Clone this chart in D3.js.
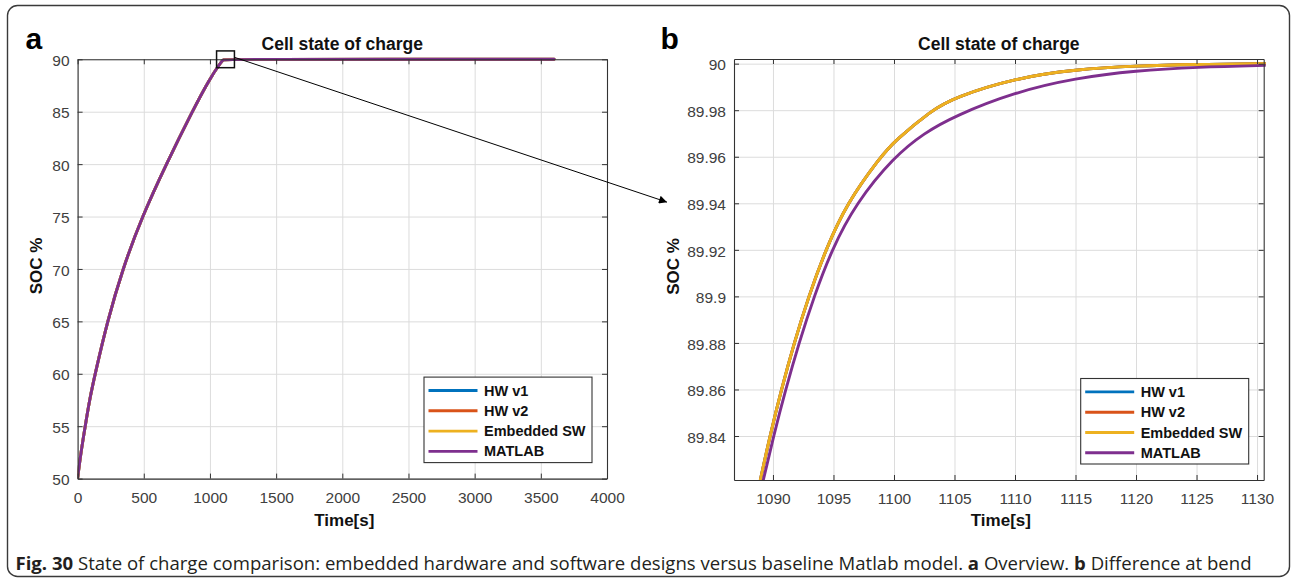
<!DOCTYPE html>
<html>
<head>
<meta charset="utf-8">
<script src="https://cdn.jsdelivr.net/npm/d3@7"></script>
<style>
html,body{margin:0;padding:0;background:#fff;}
svg{display:block;}
</style>
</head>
<body>
<svg id="chart" width="1293" height="579"></svg>
<script>
// ---------------- DATA ----------------
const seriesNames  = ["HW v1", "HW v2", "Embedded SW", "MATLAB"];
const seriesColors = ["#0072BD", "#D95319", "#EDB120", "#7E2F8E"];

// Panel a: overview (all four series coincide at this scale)
const overviewTime = [0, 25, 57.5, 90, 132.5, 225, 340, 487.5, 670, 865, 1000, 1089, 1100, 1130, 3600];
const overviewSoc  = [50, 52.5, 55, 57.5, 60, 65, 70, 75, 80, 85, 88.2, 89.82, 89.966, 90, 90];

// Panel b: zoom at the bend
// HW v1, HW v2 and Embedded SW lie on top of each other
const zoomTimeSW = [1088.5, 1088.95, 1089.75, 1090.7, 1091.75, 1092.95, 1094.35, 1096.1, 1098.9, 1100, 1103.1, 1105, 1110, 1115, 1120, 1125, 1131];
const zoomSocSW  = [89.81, 89.821, 89.84, 89.86, 89.88, 89.90, 89.92, 89.94, 89.96, 89.9665, 89.98, 89.9855, 89.9938, 89.9975, 89.9991, 89.9997, 90.0];
const zoomTimeML = [1088.7, 1089.2, 1090.05, 1091.05, 1092.15, 1093.4, 1094.85, 1096.85, 1100.0, 1102.5, 1105, 1110, 1115, 1120, 1125, 1131];
const zoomSocML  = [89.81, 89.821, 89.84, 89.86, 89.88, 89.90, 89.92, 89.94, 89.96, 89.9702, 89.9775, 89.9878, 89.9938, 89.997, 89.9985, 89.9993];

// Ticks
const overviewXTicks = [0, 500, 1000, 1500, 2000, 2500, 3000, 3500, 4000];
const overviewXLabels = ["0", "500", "1000", "1500", "2000", "2500", "3000", "3500", "4000"];
const overviewYTicks = [50, 55, 60, 65, 70, 75, 80, 85, 90];
const overviewYLabels = ["50", "55", "60", "65", "70", "75", "80", "85", "90"];
const zoomXTicks = [1090, 1095, 1100, 1105, 1110, 1115, 1120, 1125, 1130];
const zoomXLabels = ["1090", "1095", "1100", "1105", "1110", "1115", "1120", "1125", "1130"];
const zoomYTicks = [89.84, 89.86, 89.88, 89.9, 89.92, 89.94, 89.96, 89.98, 90];
const zoomYLabels = ["89.84", "89.86", "89.88", "89.9", "89.92", "89.94", "89.96", "89.98", "90"];

const titleText = "Cell state of charge";
const xTitle = "Time[s]";
const yTitle = "SOC %";

// Zoom-region marker on panel a (data units)
const zoomBoxTime = [1050, 1185];
const zoomBoxSoc  = [89.2, 90.8];

// ---------------- DRAWING ----------------
const svg = d3.select("#chart");
const FONT = "'Liberation Sans', Arial, Helvetica, sans-serif";

// outer rounded frame
svg.append("rect")
  .attr("x", 7.5).attr("y", 5.5).attr("width", 1282).attr("height", 571)
  .attr("rx", 10).attr("ry", 10)
  .attr("fill", "#fff").attr("stroke", "#3a3a3a").attr("stroke-width", 1.4);

const defs = svg.append("defs");
defs.append("marker")
  .attr("id", "arrowhead").attr("viewBox", "0 0 10 10")
  .attr("refX", 10).attr("refY", 5)
  .attr("markerWidth", 11).attr("markerHeight", 8)
  .attr("markerUnits", "userSpaceOnUse")
  .attr("orient", "auto")
  .append("path").attr("d", "M0,0 L10,5 L0,10 z").attr("fill", "#000");

function drawPanel(p) {
  const g = svg.append("g");
  const x = d3.scaleLinear().domain(p.xDomain).range([p.left, p.right]);
  const y = d3.scaleLinear().domain(p.yDomain).range([p.bottom, p.top]);
  const h = p.bottom - p.top, w = p.right - p.left;

  g.append("rect").attr("x", p.left).attr("y", p.top).attr("width", w).attr("height", h).attr("fill", "#fff");

  // grid
  const gx = g.append("g").attr("transform", `translate(0,${p.bottom})`)
    .call(d3.axisBottom(x).tickValues(p.xTicks).tickSize(-h).tickFormat(""));
  gx.select(".domain").remove();
  gx.selectAll("line").attr("stroke", "#dcdcdc").attr("stroke-width", 1);
  const gy = g.append("g").attr("transform", `translate(${p.left},0)`)
    .call(d3.axisLeft(y).tickValues(p.yTicks).tickSize(-w).tickFormat(""));
  gy.select(".domain").remove();
  gy.selectAll("line").attr("stroke", "#dcdcdc").attr("stroke-width", 1);

  // clip
  const clipId = "clip-" + p.id;
  defs.append("clipPath").attr("id", clipId).append("rect")
    .attr("x", p.left).attr("y", p.top - 2).attr("width", w + 2).attr("height", h + 2);

  const line = d3.line().x(d => x(d[0])).y(d => y(d[1])).curve(d3.curveBasis);
  const lg = g.append("g").attr("clip-path", `url(#${clipId})`);
  p.series.forEach((s, i) => {
    lg.append("path")
      .datum(d3.zip(s.t, s.v))
      .attr("d", line)
      .attr("fill", "none")
      .attr("stroke", seriesColors[i])
      .attr("stroke-width", 2.9)
      .attr("stroke-linejoin", "round")
      .attr("stroke-linecap", "round");
  });

  // axes (box with inward ticks on all sides)
  const axStyle = sel => {
    sel.select(".domain").attr("stroke", "#333").attr("stroke-width", 1.1);
    sel.selectAll(".tick line").attr("stroke", "#333").attr("stroke-width", 1);
    sel.selectAll("text").attr("fill", "#404040").style("font-family", FONT).style("font-size", "15.5px");
  };
  g.append("g").attr("transform", `translate(0,${p.bottom})`)
    .call(d3.axisBottom(x).tickValues(p.xTicks).tickSize(-5).tickSizeOuter(0).tickPadding(13)
      .tickFormat((d, i) => p.xLabels[i]))
    .call(axStyle);
  g.append("g").attr("transform", `translate(0,${p.top})`)
    .call(d3.axisTop(x).tickValues(p.xTicks).tickSize(-5).tickSizeOuter(0).tickFormat(""))
    .call(axStyle);
  const la = g.append("g").attr("transform", `translate(${p.left},0)`)
    .call(d3.axisLeft(y).tickValues(p.yTicks).tickSize(-5).tickSizeOuter(0).tickPadding(8)
      .tickFormat((d, i) => p.yLabels[i]))
    .call(axStyle);
  la.selectAll("text").attr("dy", "0.4em");
  g.append("g").attr("transform", `translate(${p.right},0)`)
    .call(d3.axisRight(y).tickValues(p.yTicks).tickSize(-5).tickSizeOuter(0).tickFormat(""))
    .call(axStyle);

  // title
  g.append("text").attr("x", (p.left + p.right) / 2).attr("y", 50)
    .attr("text-anchor", "middle").style("font-family", FONT).style("font-weight", "bold")
    .style("font-size", "17.5px").attr("fill", "#111").text(titleText);
  // x title
  g.append("text").attr("x", (p.left + p.right) / 2 + 2).attr("y", 525.5)
    .attr("text-anchor", "middle").style("font-family", FONT).style("font-weight", "bold")
    .style("font-size", "17px").attr("fill", "#111").text(xTitle);
  // y title
  g.append("text").attr("transform", `translate(${p.yTitleX},${(p.top + p.bottom) / 2 - 3}) rotate(-90)`)
    .attr("text-anchor", "middle").style("font-family", FONT).style("font-weight", "bold")
    .style("font-size", "17px").attr("fill", "#111").text(yTitle);
  // panel letter
  g.append("text").attr("x", p.letterX).attr("y", 48.5)
    .style("font-family", FONT).style("font-weight", "bold")
    .style("font-size", "30px").attr("fill", "#000").text(p.letter);

  // legend
  const legW = 168, legH = 85.5;
  const lx = p.right - 15 - legW, ly = p.bottom - 16 - legH;
  const leg = g.append("g");
  leg.append("rect").attr("x", lx).attr("y", ly).attr("width", legW).attr("height", legH)
    .attr("fill", "#fff").attr("stroke", "#333").attr("stroke-width", 1.1);
  seriesNames.forEach((name, i) => {
    const ry = ly + 13.4 + i * 20.3;
    leg.append("line").attr("x1", lx + 4.5).attr("x2", lx + 53.5).attr("y1", ry).attr("y2", ry)
      .attr("stroke", seriesColors[i]).attr("stroke-width", 2.9);
    leg.append("text").attr("x", lx + 60).attr("y", ry + 5)
      .style("font-family", FONT).style("font-weight", "bold").style("font-size", "14.5px")
      .attr("fill", "#111").text(name);
  });
  return {x, y};
}

const A = drawPanel({
  id: "a", letter: "a", letterX: 25.5, yTitleX: 42,
  left: 77.6, right: 607, top: 59.3, bottom: 478.6,
  xDomain: [0, 4000], yDomain: [50, 90],
  xTicks: overviewXTicks, xLabels: overviewXLabels,
  yTicks: overviewYTicks, yLabels: overviewYLabels,
  series: [
    {t: overviewTime, v: overviewSoc},
    {t: overviewTime, v: overviewSoc},
    {t: overviewTime, v: overviewSoc},
    {t: overviewTime, v: overviewSoc}
  ]
});

const B = drawPanel({
  id: "b", letter: "b", letterX: 660.5, yTitleX: 679,
  left: 734, right: 1263.7, top: 59, bottom: 480,
  xDomain: [1086.78, 1130.55], yDomain: [89.8211, 90.002],
  xTicks: zoomXTicks, xLabels: zoomXLabels,
  yTicks: zoomYTicks, yLabels: zoomYLabels,
  series: [
    {t: zoomTimeSW, v: zoomSocSW},
    {t: zoomTimeSW, v: zoomSocSW},
    {t: zoomTimeSW, v: zoomSocSW},
    {t: zoomTimeML, v: zoomSocML}
  ]
});

// zoom marker box on panel a
const bx0 = A.x(zoomBoxTime[0]), bx1 = A.x(zoomBoxTime[1]);
const by0 = A.y(zoomBoxSoc[1]), by1 = A.y(zoomBoxSoc[0]);
svg.append("rect").attr("x", bx0).attr("y", by0).attr("width", bx1 - bx0).attr("height", by1 - by0)
  .attr("fill", "none").attr("stroke", "#111").attr("stroke-width", 1.5);

// arrow from marker to panel b
svg.append("line")
  .attr("x1", bx1).attr("y1", A.y(90.19))
  .attr("x2", 734 - 67).attr("y2", B.y(89.9405))
  .attr("stroke", "#000").attr("stroke-width", 1)
  .attr("marker-end", "url(#arrowhead)");

// caption
const cap = svg.append("text").attr("x", 15.5).attr("y", 569.5)
  .style("font-family", "'Open Sans', 'Noto Sans', sans-serif").style("font-size", "17.5px").attr("fill", "#231f20");
const capParts = [
  ["Fig. 30", true],
  [" State of charge comparison: embedded hardware and software designs versus baseline Matlab model. ", false],
  ["a", true], [" Overview. ", false], ["b", true], [" Difference at bend", false]
];
capParts.forEach(([t, b]) => cap.append("tspan").style("font-weight", b ? "bold" : "normal").text(t));
cap.attr("textLength", 1236).attr("lengthAdjust", "spacingAndGlyphs");
</script>
</body>
</html>
